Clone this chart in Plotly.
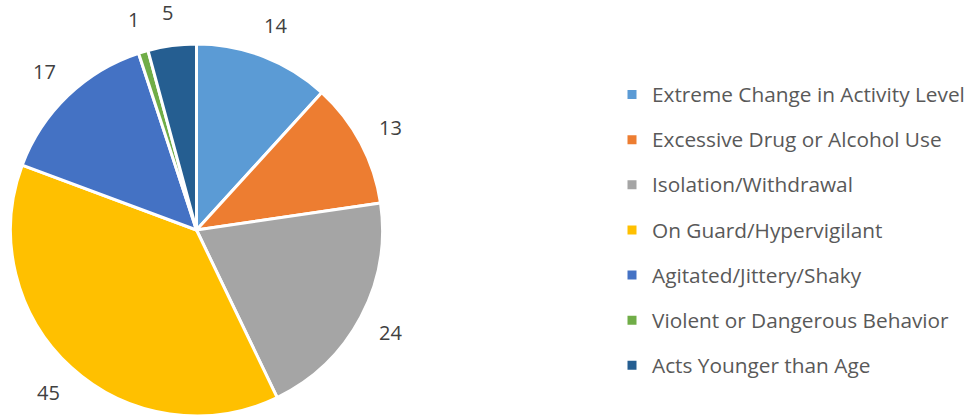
import math
import plotly.graph_objects as go

categories = [
    "Extreme Change in Activity Level",
    "Excessive Drug or Alcohol Use",
    "Isolation/Withdrawal",
    "On Guard/Hypervigilant",
    "Agitated/Jittery/Shaky",
    "Violent or Dangerous Behavior",
    "Acts Younger than Age",
]
values = [14, 13, 24, 45, 17, 1, 5]
colors = ["#5B9BD5", "#ED7D31", "#A5A5A5", "#FFC000", "#4472C4", "#70AD47", "#255E91"]

W, H = 976, 417
dom_x = [10 / W, 383 / W]
dom_y = [1 / H, 373 / H]

legend_labels = ['<span style="font-size:20.8px;baseline-shift:5px">%s</span>' % c for c in categories]

fig = go.Figure(go.Pie(
    labels=legend_labels,
    values=values,
    sort=False,
    direction="clockwise",
    rotation=0,
    marker=dict(colors=colors, line=dict(color="white", width=3)),
    textinfo="none",
    domain=dict(x=dom_x, y=dom_y),
    hoverinfo="label+value",
))

# value labels placed outside each slice at its mid-angle
cx = (dom_x[0] + dom_x[1]) / 2 * W
cy = (dom_y[0] + dom_y[1]) / 2 * H
R = min((dom_x[1] - dom_x[0]) * W, (dom_y[1] - dom_y[0]) * H) / 2
total = sum(values)
cum = 0
for v in values:
    mid = (cum + v / 2) / total * 2 * math.pi
    cum += v
    r = R * 1.18
    px = cx + r * math.sin(mid)
    py = cy + r * math.cos(mid)
    fig.add_annotation(
        x=px / W, y=py / H, xref="paper", yref="paper",
        text=str(v), showarrow=False,
        xanchor="center", yanchor="middle",
        font=dict(size=20, color="#404040", family="Open Sans"),
    )

fig.update_layout(
    width=W, height=H,
    margin=dict(l=0, r=0, t=0, b=0),
    paper_bgcolor="white",
    plot_bgcolor="white",
    font=dict(family="Open Sans", color="#595959"),
    legend=dict(
        x=612 / W, xanchor="left",
        y=(H - 230) / H, yanchor="middle",
        font=dict(size=32.4, color="#595959", family="Open Sans"),
        bgcolor="rgba(0,0,0,0)",
    ),
    showlegend=True,
)

fig.write_html(
    "out.html",
    config={"displayModeBar": False},
    post_script="document.body.style.margin='0';document.body.style.overflow='hidden';",
)
